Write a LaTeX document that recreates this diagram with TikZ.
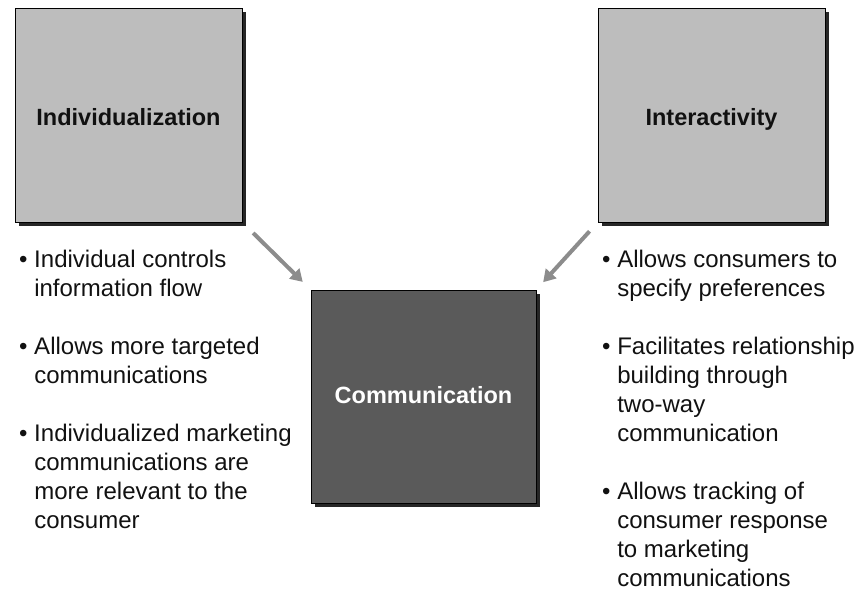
\documentclass[tikz,border=0pt]{standalone}
\usepackage{fontspec}
\setmainfont{Liberation Sans}
\usetikzlibrary{shadows,arrows.meta}
\definecolor{cardlight}{HTML}{BDBDBD}
\definecolor{carddark}{HTML}{5A5A5A}
\definecolor{arrowgray}{HTML}{8C8C8C}
\definecolor{ink}{HTML}{111111}
\newcommand{\bul}{\textbullet\ }
\newcommand{\ind}{\phantom{\textbullet\ }}
\begin{document}
\begin{tikzpicture}[x=1pt,y=-1pt,
  card/.style={draw=black, line width=0.8pt, inner sep=0pt,
    minimum width=227pt, minimum height=214pt,
    drop shadow={shadow xshift=3.5pt, shadow yshift=-3.5pt, fill=black!85, opacity=1},
    font=\fontsize{23.5}{28}\selectfont\bfseries},
  lightcard/.style={card, fill=cardlight, text=ink, text height=21pt, text depth=0pt},
  darkcard/.style={card, fill=carddark, text=white, text height=17pt, text depth=3pt},
  flow/.style={draw=arrowgray, line width=4pt,
    -{Triangle[length=12pt,width=14pt]}},
  notes/.style={anchor=north west, inner sep=0pt, align=left, text=ink,
    font=\fontsize{24}{29}\selectfont}
]
\useasboundingbox (0,0) rectangle (861,595);

% the three concept boxes
\node[lightcard] (ind) at (128.5,115) {Individualization};
\node[lightcard] (int) at (711.5,115) {Interactivity};
\node[darkcard, minimum width=225pt, minimum height=213pt] (com) at (423.5,396.5) {Communication};

% arrows into the central box
\draw[flow, shorten <=15pt, shorten >=11pt] (ind.south east) -- (com.north west);
\draw[flow, shorten <=12pt, shorten >=10pt] (int.south west) -- (com.north east);

% bullet lists
\node[notes] (indnotes) at (19,250) {%
  \bul Individual controls\\
  \ind information flow\\[29pt]
  \bul Allows more targeted\\
  \ind communications\\[29pt]
  \bul Individualized marketing\\
  \ind communications are\\
  \ind more relevant to the\\
  \ind consumer};

\node[notes] (intnotes) at (602,250) {%
  \bul Allows consumers to\\
  \ind specify preferences\\[29pt]
  \bul Facilitates relationship\\
  \ind building through\\
  \ind two-way\\
  \ind communication\\[29pt]
  \bul Allows tracking of\\
  \ind consumer response\\
  \ind to marketing\\
  \ind communications};
\end{tikzpicture}
\end{document}
